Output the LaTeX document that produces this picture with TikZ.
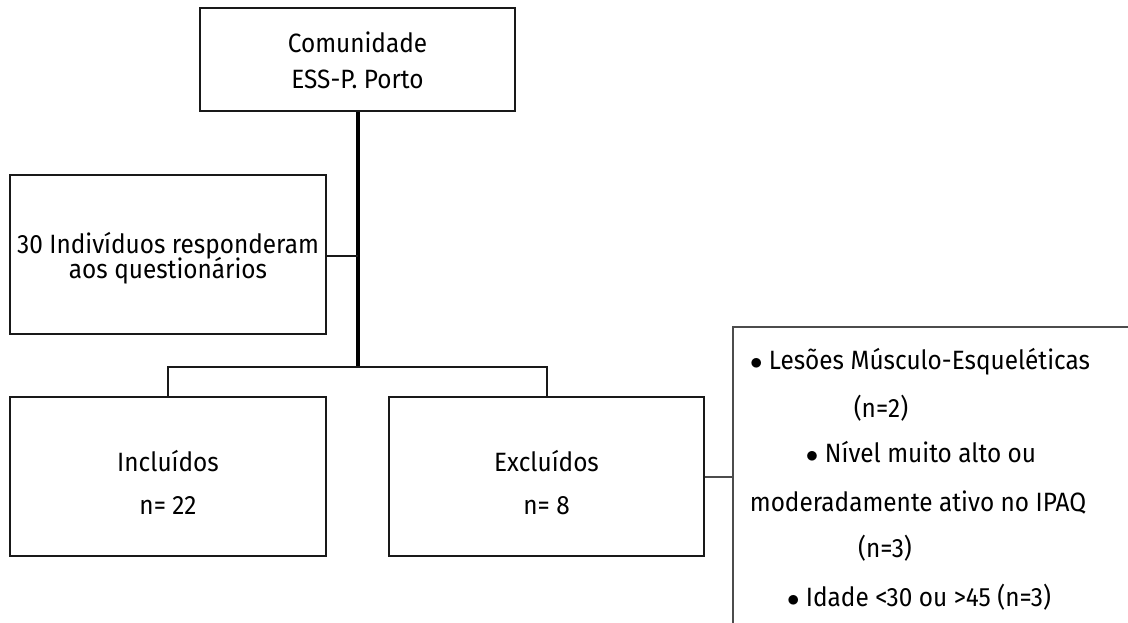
\documentclass[tikz,border=0pt]{standalone}
\usepackage{fontspec}
\setmainfont{Fira Sans}[FakeStretch=0.92]
\newcommand{\blt}{{\fontsize{30}{30}\selectfont$\bullet$}}
\begin{document}
\begin{tikzpicture}[x=1pt,y=-1pt,
  box/.style={draw=black!90, line width=2pt, rectangle, inner sep=0pt, align=center},
  conn/.style={draw=black!90, line width=2pt},
  thickconn/.style={draw=black, line width=4pt},
  thinconn/.style={draw=black!70, line width=1.3pt},
  txt/.style={font=\fontsize{26.5}{30}\selectfont, inner sep=0pt, anchor=base}]
\useasboundingbox (0,0) rectangle (1128,623);
\fill[white] (0,0) rectangle (1128,623);
% boxes
\node[box, minimum width=315pt, minimum height=103pt] (top) at (357.5,59.5) {};
\node[box, minimum width=316pt, minimum height=159pt] (resp) at (168,254.5) {};
\node[box, minimum width=316pt, minimum height=159pt] (inc) at (168,476.5) {};
\node[box, minimum width=315pt, minimum height=159pt] (exc) at (546.5,476.5) {};
% texts
\node[txt] (t1) at (357.5,53) {Comunidade};
\node[txt] (t2) at (357.5,89) {ESS-P. Porto};
\node[txt] (r1) at (168,253) {30 Indivíduos responderam};
\node[txt] (r2) at (168,278) {aos questionários};
\node[txt] (i1) at (168,471) {Incluídos};
\node[txt] (i2) at (168,514) {n= 22};
\node[txt] (e1) at (546.5,471) {Excluídos};
\node[txt] (e2) at (546.5,514) {n= 8};
% criteria box (open at right and bottom)
\coordinate (cbl) at (733,623);
\coordinate (ctr) at (1128,327);
\coordinate (cin) at (733,477);
\draw[thinconn] (cbl) |- (ctr);
\node[txt] (c1) at (920,369) {\blt{} Lesões Músculo-Esqueléticas};
\node[txt] (c2) at (881,417) {(n=2)};
\node[txt] (c3) at (921,462) {\blt{} Nível muito alto ou};
\node[txt] (c4) at (918,511) {moderadamente ativo no IPAQ};
\node[txt] (c5) at (885,557) {(n=3)};
\node[txt] (c6) at (919,606) {\blt{} Idade <30 ou >45 (n=3)};
% connectors
\coordinate (split) at (357.5,367);
\coordinate (mid) at (357.5,256);
\draw[thickconn] (top.south) -- (split);
\draw[conn] (resp.east |- mid) -- (mid);
\draw[conn] (inc.north) |- (split) -| (exc.north);
\draw[thinconn] (exc.east |- cin) -- (cin);
\end{tikzpicture}
\end{document}
